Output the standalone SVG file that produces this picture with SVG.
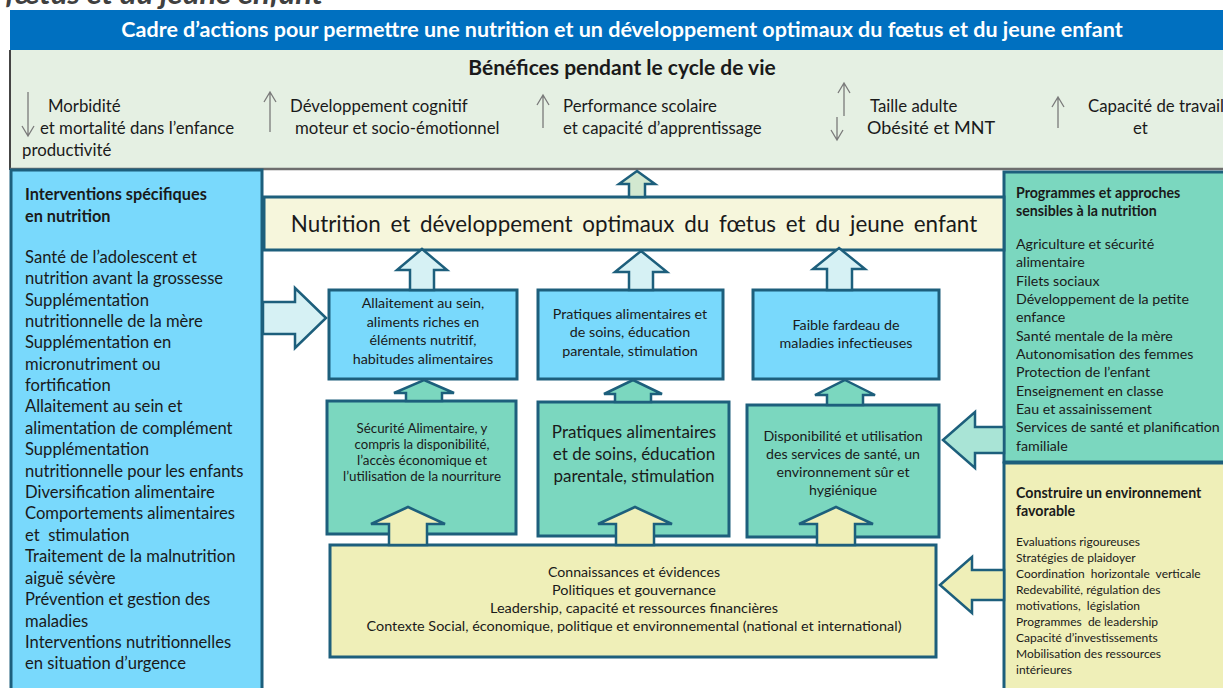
<svg xmlns="http://www.w3.org/2000/svg" width="1223" height="688" viewBox="0 0 1223 688">
<style>
text{font-family:Lato,"Open Sans","Liberation Sans",sans-serif;fill:#1a1a1a}
.hdr{font-size:21.5px;font-weight:bold;fill:#fff}
.ben{font-size:16.8px}
.bt{font-size:21px;font-weight:bold}
.lp{font-size:16.6px}
.lpt{font-size:16.3px;font-weight:bold}
.rp{font-size:14.2px}
.rpt{font-size:14.2px;font-weight:bold}
.yp{font-size:12px}
.bx{font-size:14.3px}
.c{text-anchor:middle}
.box{stroke:#1d5f7c;stroke-width:3}
.arr{stroke:#1d5f7c;stroke-width:2.5;stroke-linejoin:miter}
.ga{fill:none;stroke:#7a7a7a;stroke-width:1.3}
</style>
<rect width="1223" height="688" fill="#fff"/>
<text x="5" y="4" textLength="318" lengthAdjust="spacingAndGlyphs" style="font-size:28px;font-weight:bold;font-style:italic;fill:#404040">fœtus et du jeune enfant</text>

<g id="header">
<rect x="10" y="10" width="1213" height="40" fill="#0070C0"/>
<text class="hdr c" x="622" y="37">Cadre d’actions pour permettre une nutrition et un développement optimaux du fœtus et du jeune enfant</text>
</g>

<g id="benefices">
<rect x="10" y="50" width="1213" height="119" fill="#E5F0E3"/>
<line x1="10" y1="50" x2="10" y2="170" stroke="#444" stroke-width="2"/>
<line x1="10" y1="169" x2="1223" y2="169" stroke="#6e6e6e" stroke-width="2.5"/>
<text class="bt c" x="622" y="75">Bénéfices pendant le cycle de vie</text>
<path class="ga" d="M28,92 V136 M22,126 L28,136 L34,126"/>
<text class="ben" x="48" y="112">Morbidité</text>
<text class="ben" x="40" y="134">et mortalité dans l’enfance</text>
<text class="ben" x="22" y="156">productivité</text>
<path class="ga" d="M270,132 V92 M264,102 L270,92 L276,102"/>
<text class="ben" x="290" y="112">Développement cognitif</text>
<text class="ben" x="295" y="134">moteur et socio-émotionnel</text>
<path class="ga" d="M543,128 V95 M537,105 L543,95 L549,105"/>
<text class="ben" x="563" y="112">Performance scolaire</text>
<text class="ben" x="563" y="134">et capacité d’apprentissage</text>
<path class="ga" d="M844,116 V83 M838,93 L844,83 L850,93"/>
<path class="ga" d="M837,117 V140 M831,130 L837,140 L843,130"/>
<text class="ben" x="870" y="112">Taille adulte</text>
<text class="ben" x="867" y="134" style="font-size:18px">Obésité et MNT</text>
<path class="ga" d="M1058,128 V97 M1052,107 L1058,97 L1064,107"/>
<text class="ben" x="1088" y="112">Capacité de travail</text>
<text class="ben" x="1133" y="134">et</text>
</g>

<g id="interventions-specifiques">
<rect class="box" x="11" y="170" width="251" height="530" fill="#79D9FC"/>
<text class="lpt" x="25" y="200">Interventions spécifiques</text>
<text class="lpt" x="25" y="222">en nutrition</text>
<text class="lp" x="25" y="263">Santé de l’adolescent et</text>
<text class="lp" x="25" y="284">nutrition avant la grossesse</text>
<text class="lp" x="25" y="306">Supplémentation</text>
<text class="lp" x="25" y="327">nutritionnelle de la mère</text>
<text class="lp" x="25" y="348">Supplémentation en</text>
<text class="lp" x="25" y="370">micronutriment ou</text>
<text class="lp" x="25" y="391">fortification</text>
<text class="lp" x="25" y="412">Allaitement au sein et</text>
<text class="lp" x="25" y="434">alimentation de complément</text>
<text class="lp" x="25" y="455">Supplémentation</text>
<text class="lp" x="25" y="477">nutritionnelle pour les enfants</text>
<text class="lp" x="25" y="498">Diversification alimentaire</text>
<text class="lp" x="25" y="519">Comportements alimentaires</text>
<text class="lp" x="25" y="541" xml:space="preserve">et  stimulation</text>
<text class="lp" x="25" y="562">Traitement de la malnutrition</text>
<text class="lp" x="25" y="584">aiguë sévère</text>
<text class="lp" x="25" y="605">Prévention et gestion des</text>
<text class="lp" x="25" y="627">maladies</text>
<text class="lp" x="25" y="648">Interventions nutritionnelles</text>
<text class="lp" x="25" y="669">en situation d’urgence</text>
</g>

<g id="programmes-sensibles">
<rect class="box" x="1004" y="172" width="225" height="290" fill="#7BD7BF"/>
<text class="rpt" x="1016" y="198">Programmes et approches</text>
<text class="rpt" x="1016" y="216">sensibles à la nutrition</text>
<text class="rp" x="1016" y="249">Agriculture et sécurité</text>
<text class="rp" x="1016" y="267">alimentaire</text>
<text class="rp" x="1016" y="286">Filets sociaux</text>
<text class="rp" x="1016" y="304">Développement de la petite</text>
<text class="rp" x="1016" y="322">enfance</text>
<text class="rp" x="1016" y="341">Santé mentale de la mère</text>
<text class="rp" x="1016" y="359">Autonomisation des femmes</text>
<text class="rp" x="1016" y="377">Protection de l’enfant</text>
<text class="rp" x="1016" y="396">Enseignement en classe</text>
<text class="rp" x="1016" y="414">Eau et assainissement</text>
<text class="rp" x="1016" y="432">Services de santé et planification</text>
<text class="rp" x="1016" y="451">familiale</text>
</g>

<g id="environnement-favorable">
<rect class="box" x="1004" y="463" width="225" height="240" fill="#EFEFB8"/>
<text class="rpt" x="1016" y="498">Construire un environnement</text>
<text class="rpt" x="1016" y="516">favorable</text>
<text class="yp" x="1016" y="546">Evaluations rigoureuses</text>
<text class="yp" x="1016" y="562">Stratégies de plaidoyer</text>
<text class="yp" x="1016" y="578" xml:space="preserve">Coordination  horizontale  verticale</text>
<text class="yp" x="1016" y="594">Redevabilité, régulation des</text>
<text class="yp" x="1016" y="610" xml:space="preserve">motivations,  législation</text>
<text class="yp" x="1016" y="626" xml:space="preserve">Programmes  de leadership</text>
<text class="yp" x="1016" y="642">Capacité d’investissements</text>
<text class="yp" x="1016" y="658">Mobilisation des ressources</text>
<text class="yp" x="1016" y="674">intérieures</text>
</g>

<g id="resultat">
<rect class="box" x="264" y="197" width="740" height="53" fill="#F6F6DC"/>
<text class="c" x="634" y="232" style="font-size:22.4px;word-spacing:4px">Nutrition et développement optimaux du fœtus et du jeune enfant</text>
</g>

<g id="allaitement">
<rect class="box" x="329" y="290" width="188" height="89" fill="#79D9FC"/>
<text class="bx c" x="423" y="308">Allaitement au sein,</text>
<text class="bx c" x="423" y="327">aliments riches en</text>
<text class="bx c" x="423" y="345">éléments nutritif,</text>
<text class="bx c" x="423" y="364">habitudes alimentaires</text>
</g>
<g id="pratiques-soins">
<rect class="box" x="538" y="290" width="185" height="89" fill="#79D9FC"/>
<text class="bx c" x="630" y="319">Pratiques alimentaires et</text>
<text class="bx c" x="630" y="337">de soins, éducation</text>
<text class="bx c" x="630" y="356">parentale, stimulation</text>
</g>
<g id="faible-fardeau">
<rect class="box" x="753" y="290" width="186" height="89" fill="#79D9FC"/>
<text class="bx c" x="846" y="330">Faible fardeau de</text>
<text class="bx c" x="846" y="348">maladies infectieuses</text>
</g>

<g id="securite-alimentaire">
<rect class="box" x="327" y="401" width="189" height="133" fill="#7BD7BF"/>
<text class="c" x="422" y="433" style="font-size:13px" textLength="131" lengthAdjust="spacingAndGlyphs">Sécurité Alimentaire, y</text>
<text class="c" x="422" y="449" style="font-size:13px" textLength="135" lengthAdjust="spacingAndGlyphs">compris la disponibilité,</text>
<text class="c" x="422" y="465" style="font-size:13px" textLength="130" lengthAdjust="spacingAndGlyphs">l’accès économique et</text>
<text class="c" x="422" y="481" style="font-size:13px" textLength="158" lengthAdjust="spacingAndGlyphs">l’utilisation de la nourriture</text>
</g>
<g id="pratiques-education">
<rect class="box" x="538" y="402" width="191" height="134" fill="#7BD7BF"/>
<text class="c" x="634" y="438" style="font-size:17px">Pratiques alimentaires</text>
<text class="c" x="634" y="460" style="font-size:17px">et de soins, éducation</text>
<text class="c" x="634" y="482" style="font-size:17px">parentale, stimulation</text>
</g>
<g id="services-sante">
<rect class="box" x="747" y="405" width="192" height="132" fill="#7BD7BF"/>
<text class="c" x="843" y="441" style="font-size:14.2px">Disponibilité et utilisation</text>
<text class="c" x="843" y="459" style="font-size:14.2px">des services de santé, un</text>
<text class="c" x="843" y="477" style="font-size:14.2px">environnement sûr et</text>
<text class="c" x="843" y="495" style="font-size:14.2px">hygiénique</text>
</g>

<g id="contexte">
<rect class="box" x="330" y="545" width="606" height="112" fill="#EFEFB8"/>
<text class="c" x="634" y="577" style="font-size:13.5px" textLength="172" lengthAdjust="spacingAndGlyphs">Connaissances et évidences</text>
<text class="c" x="634" y="595" style="font-size:13.5px" textLength="164" lengthAdjust="spacingAndGlyphs">Politiques et gouvernance</text>
<text class="c" x="634" y="613" style="font-size:13.5px" textLength="288" lengthAdjust="spacingAndGlyphs">Leadership, capacité et ressources financières</text>
<text class="c" x="634" y="631" style="font-size:13.5px" textLength="535" lengthAdjust="spacingAndGlyphs">Contexte Social, économique, politique et environnemental (national et international)</text>
</g>

<g id="connecteurs">
<polygon class="arr" fill="#D2E8D0" points="637,171 655,184 645,184 645,197 629,197 629,184 619,184"/>
<polygon class="arr" fill="#D6F1F4" points="422,249 447,270 434,270 434,290 410,290 410,270 397,270"/>
<polygon class="arr" fill="#D6F1F4" points="641,251 667,272 653,272 653,290 629,290 629,272 615,272"/>
<polygon class="arr" fill="#D6F1F4" points="839,248 865,269 852,269 852,290 827,290 827,269 813,269"/>
<polygon class="arr" fill="#7BD7BF" points="424,380 454,393 442,393 442,401 406,401 406,393 394,393"/>
<polygon class="arr" fill="#7BD7BF" points="633,380 662,394 651,394 651,402 615,402 615,394 604,394"/>
<polygon class="arr" fill="#7BD7BF" points="845,380 875,395 863,395 863,405 827,405 827,395 815,395"/>
<polygon class="arr" fill="#EFEFB8" points="408,507 445,524 427,524 427,545 389,545 389,524 371,524"/>
<polygon class="arr" fill="#EFEFB8" points="635,507 672,524 654,524 654,545 616,545 616,524 598,524"/>
<polygon class="arr" fill="#EFEFB8" points="836,507 873,524 855,524 855,545 817,545 817,524 799,524"/>
<polygon class="arr" fill="#D6F1F4" points="326,318 295,288 295,302 263,302 263,334 295,334 295,348"/>
<polygon class="arr" fill="#A9E4D6" points="943,440 975,412 975,427 1004,427 1004,453 975,453 975,468"/>
<polygon class="arr" fill="#EFEFB8" points="940,585 972,557 972,570 1004,570 1004,600 972,600 972,613"/>
</g>
</svg>
